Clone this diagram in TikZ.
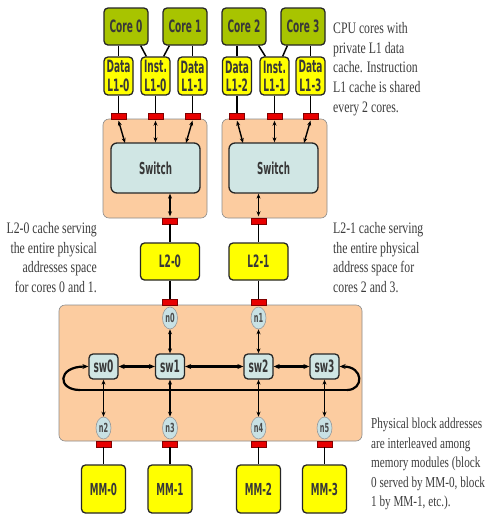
\documentclass[tikz,border=0pt]{standalone}
\usepackage{fontspec}
\setmainfont{Liberation Serif}[FakeStretch=0.735]
\newfontfamily\bxf{DejaVu Sans}[FakeStretch=0.53]
\usetikzlibrary{arrows.meta,shapes.geometric}
\definecolor{coreg}{RGB}{168,196,0}
\definecolor{cyel}{RGB}{255,255,0}
\definecolor{orng}{RGB}{252,204,160}
\definecolor{swb}{RGB}{208,230,228}
\definecolor{elb}{RGB}{200,225,228}
\definecolor{prt}{RGB}{232,0,0}
\definecolor{txtg}{RGB}{60,60,60}
\tikzset{
  boxbase/.style={draw=black!85, line width=1.3pt, rounded corners=4pt, inner sep=0pt, text=black!78},
  core/.style={boxbase, fill=coreg, minimum width=44pt, minimum height=37pt, font=\bxf\bfseries\fontsize{17}{17}\selectfont},
  lone/.style={boxbase, fill=cyel, minimum width=29pt, minimum height=38pt, align=center, font=\bxf\bfseries\fontsize{17}{18.4}\selectfont},
  ltwo/.style={boxbase, fill=cyel, minimum width=59pt, minimum height=37pt, font=\bxf\bfseries\fontsize{17}{17}\selectfont},
  mm/.style={boxbase, fill=cyel, minimum width=44pt, minimum height=48pt, font=\bxf\bfseries\fontsize{16.5}{17}\selectfont},
  switchbox/.style={boxbase, fill=swb, minimum width=89pt, minimum height=50pt, rounded corners=6pt, font=\bxf\bfseries\fontsize{16.5}{17}\selectfont},
  swn/.style={boxbase, fill=swb, minimum width=29pt, minimum height=25pt, font=\bxf\bfseries\fontsize{17}{17}\selectfont},
  obox/.style={draw=black!45, line width=0.6pt, fill=orng, rounded corners=6pt, inner sep=0pt},
  port/.style={draw=red!50!black, line width=0.4pt, fill=prt, minimum width=15pt, minimum height=6pt, inner sep=0pt},
  enode/.style={ellipse, draw=black!40, line width=0.6pt, fill=elb, minimum width=15pt, minimum height=22pt, inner sep=0pt, text=black!70, font=\bxf\bfseries\fontsize{12.5}{12.5}\selectfont},
  wire/.style={draw=black, line width=1.5pt},
  biarrow/.style={draw=black, line width=1.4pt, {Stealth[length=5pt,width=4pt]}-{Stealth[length=5pt,width=4pt]}},
  thickbi/.style={draw=black, line width=2.2pt, {Stealth[length=6pt,width=5pt]}-{Stealth[length=6pt,width=5pt]}},
  ringline/.style={draw=black, line width=2.2pt},
  note/.style={inner sep=0pt, text=txtg, font=\fontsize{16}{19.7}\selectfont}
}
\begin{document}
\begin{tikzpicture}[x=1pt,y=-1pt]
\useasboundingbox[fill=white] (0,0) rectangle (488,515);

% containers
\node[obox, minimum width=104pt, minimum height=99pt] (oleft) at (155,168.5) {};
\node[obox, minimum width=105pt, minimum height=99pt] (oright) at (274.5,168.5) {};
\node[obox, minimum width=303pt, minimum height=136pt] (obig) at (210.5,373) {};

% cores
\node[core] (c0) at (126,26.5) {Core 0};
\node[core] (c1) at (185,26.5) {Core 1};
\node[core] (c2) at (244,26.5) {Core 2};
\node[core] (c3) at (303,26.5) {Core 3};

% L1 caches
\node[lone] (d0) at (118.5,76) {Data\\L1-0};
\node[lone] (i0) at (155.5,76) {Inst.\\L1-0};
\node[lone] (d1) at (192.5,76) {Data\\L1-1};
\node[lone] (d2) at (237,76) {Data\\L1-2};
\node[lone] (i1) at (274.5,76) {Inst.\\L1-1};
\node[lone] (d3) at (310.5,76) {Data\\L1-3};

% core to L1 wires
\draw[wire] (c0.south -| d0.north) -- (d0.north);
\draw[wire] ([xshift=-8pt]c0.south east) -- ([xshift=6pt]i0.north west);
\draw[wire] ([xshift=7pt]c1.south west) -- ([xshift=-7pt]i0.north east);
\draw[wire] (c1.south -| d1.north) -- (d1.north);
\draw[wire] (c2.south -| d2.north) -- (d2.north);
\draw[wire] ([xshift=-8pt]c2.south east) -- ([xshift=6pt]i1.north west);
\draw[wire] ([xshift=7pt]c3.south west) -- ([xshift=-7pt]i1.north east);
\draw[wire] (c3.south -| d3.north) -- (d3.north);

% top ports
\node[port] (p0) at (118.5,116) {};
\node[port] (p1) at (155.5,116) {};
\node[port] (p2) at (192.5,116) {};
\node[port] (p3) at (237,116) {};
\node[port] (p4) at (274.5,116) {};
\node[port] (p5) at (310.5,116) {};
\foreach \a/\b in {d0/p0,i0/p1,d1/p2,d2/p3,i1/p4,d3/p5}
  \draw[wire] (\a.south) -- (\b.north);

% switches
\node[switchbox] (swl) at (155.5,168) {Switch};
\node[switchbox] (swr) at (273.5,168) {Switch};

\coordinate (s0) at (125,143);
\coordinate (s2) at (186,143);
\coordinate (s3) at (243,143);
\coordinate (s5) at (304,143);
\draw[biarrow] ([yshift=-1.5pt]p0.south) -- (s0);
\draw[biarrow] ([yshift=-1.5pt]p1.south) -- (p1.south |- swl.north);
\draw[biarrow] ([yshift=-1.5pt]p2.south) -- (s2);
\draw[biarrow] ([yshift=-1.5pt]p3.south) -- (s3);
\draw[biarrow] ([yshift=-1.5pt]p4.south) -- (p4.south |- swr.north);
\draw[biarrow] ([yshift=-1.5pt]p5.south) -- (s5);

% switch bottom ports
\node[port] (q0) at (170,221) {};
\node[port] (q1) at (258.5,221) {};
\draw[biarrow] (q0.north |- swl.south) -- ([yshift=1.5pt]q0.north);
\draw[biarrow] (q1.north |- swr.south) -- ([yshift=1.5pt]q1.north);

% L2 caches
\node[ltwo] (l20) at (170,261.5) {L2-0};
\node[ltwo] (l21) at (258.5,261.5) {L2-1};
\draw[wire] (q0.south) -- (l20.north);
\draw[wire] (q1.south) -- (l21.north);
\node[port] (r0) at (170,302) {};
\node[port] (r1) at (258.5,302) {};
\draw[wire] (l20.south) -- (r0.north);
\draw[wire] (l21.south) -- (r1.north);

% network nodes
\node[enode] (n0) at (170,318) {n0};
\node[enode] (n1) at (258.5,318) {n1};

\node[swn] (sw0) at (103.5,366.5) {sw0};
\node[swn] (sw1) at (170,366.5) {sw1};
\node[swn] (sw2) at (258.5,366.5) {sw2};
\node[swn] (sw3) at (324.5,366.5) {sw3};

% ring
\coordinate (rl) at (80,390);
\coordinate (rr) at (347,390);
\draw[ringline] (rl) -- (rr);
\draw[ringline, -{Stealth[length=6pt,width=5pt]}] (rl) .. controls (57,390) and (57,366.5) .. (sw0.west);
\draw[ringline, -{Stealth[length=6pt,width=5pt]}] (rr) .. controls (364,390) and (364,366.5) .. (sw3.east);
\draw[thickbi] (sw0.east) -- (sw1.west);
\draw[thickbi] (sw1.east) -- (sw2.west);
\draw[thickbi] (sw2.east) -- (sw3.west);

\draw[biarrow] (n0.south) -- (sw1.north);
\draw[biarrow] (n1.south) -- (sw2.north);

\node[enode] (n2) at (103.5,428) {n2};
\node[enode] (n3) at (170,428) {n3};
\node[enode] (n4) at (258.5,428) {n4};
\node[enode] (n5) at (324.5,428) {n5};
\foreach \a/\b in {sw0/n2,sw1/n3,sw2/n4,sw3/n5}
  \draw[biarrow] (\a.south) -- (\b.north);

% bottom ports and memory modules
\node[port] (b0) at (103.5,444) {};
\node[port] (b1) at (170,444) {};
\node[port] (b2) at (258.5,444) {};
\node[port] (b3) at (324.5,444) {};
\node[mm] (m0) at (103.5,489) {MM-0};
\node[mm] (m1) at (170,489) {MM-1};
\node[mm] (m2) at (258.5,489) {MM-2};
\node[mm] (m3) at (324.5,489) {MM-3};
\foreach \a/\b in {b0/m0,b1/m1,b2/m2,b3/m3}
  \draw[wire] (\a.south) -- (\b.north);

% notes
\node[note, anchor=north west, align=left] (t1) at (333,22)
  {CPU cores with\\private L1 data\\cache. Instruction\\L1 cache is shared\\every 2 cores.};
\node[note, anchor=north east, align=right] (t2) at (97,222)
  {L2-0 cache serving\\the entire physical\\addresses space\\for cores 0 and 1.};
\node[note, anchor=north west, align=left] (t3) at (333,222)
  {L2-1 cache serving\\the entire physical\\address space for\\cores 2 and 3.};
\node[note, anchor=north west, align=left, font=\fontsize{15.2}{19.5}\selectfont] (t4) at (371,418)
  {Physical block addresses\\are interleaved among\\memory modules (block\\0 served by MM-0, block\\1 by MM-1, etc.).};
\end{tikzpicture}
\end{document}
